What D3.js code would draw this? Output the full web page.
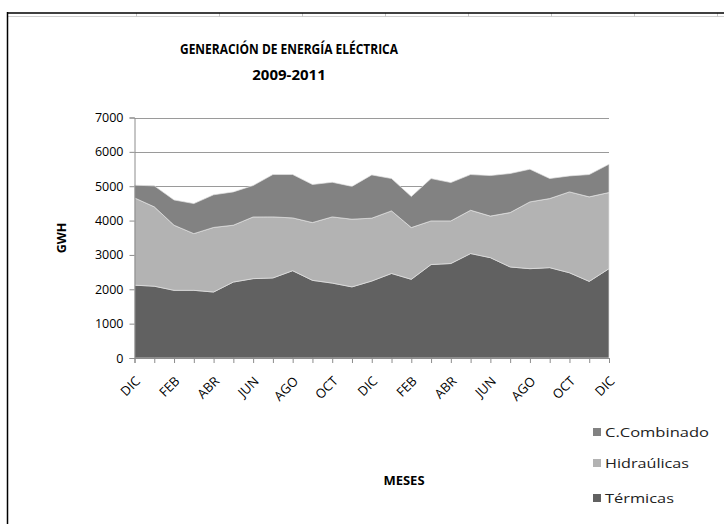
<!DOCTYPE html>
<html>
<head>
<meta charset="utf-8">
<script src="https://cdn.jsdelivr.net/npm/d3@7"></script>
<style>
  body { margin: 0; background: #fff; }
  svg text { font-family: "Open Sans", "Noto Sans", sans-serif; }
</style>
</head>
<body>
<svg id="chart" width="724" height="524"></svg>
<script>
// months DIC 2009 .. DIC 2011
const months = ["DIC","ENE","FEB","MAR","ABR","MAY","JUN","JUL","AGO","SEP","OCT","NOV",
                "DIC","ENE","FEB","MAR","ABR","MAY","JUN","JUL","AGO","SEP","OCT","NOV","DIC"]
const termicas    = [2120,2090,1970,1970,1920,2210,2310,2330,2540,2260,2180,2070,2240,2460,2290,2720,2750,3040,2920,2650,2600,2630,2480,2230,2600]
const hidraulicas = [2540,2310,1895,1650,1880,1655,1795,1777,1538,1682,1927,1970,1830,1822,1506,1270,1240,1260,1210,1583,1944,2010,2355,2460,2216]
const combinado   = [370,610,735,875,950,970,915,1233,1262,1108,1008,955,1260,941,904,1233,1117,1040,1180,1137,951,583,465,650,824]
const yTicks = [0,1000,2000,3000,4000,5000,6000,7000]

const svg = d3.select("#chart")

// spreadsheet frame
svg.append("line").attr("x1",7).attr("x2",724).attr("y1",16.5).attr("y2",16.5)
    .attr("stroke","#d0d0d0")
d3.range(136,724,83).forEach(function(x){
    svg.append("line").attr("x1",x+0.5).attr("x2",x+0.5).attr("y1",13).attr("y2",17)
        .attr("stroke","#c8c8c8")
})
svg.append("line").attr("x1",7).attr("x2",724).attr("y1",13).attr("y2",13)
    .attr("stroke","#000").attr("stroke-width",1.5)
svg.append("line").attr("x1",7.5).attr("x2",7.5).attr("y1",12).attr("y2",524)
    .attr("stroke","#000").attr("stroke-width",1.5)

const rows = months.map(function(m,i){
    return {i:i, termicas:termicas[i], hidraulicas:hidraulicas[i], combinado:combinado[i]}
})

const x = d3.scalePoint().domain(d3.range(months.length)).range([134.5,609])
const y = d3.scaleLinear().domain([0,7000]).range([358,117.5])

// grid
svg.append("g").selectAll("line").data(yTicks.slice(1)).enter().append("line")
    .attr("x1",134.5).attr("x2",609)
    .attr("y1",d=>Math.round(y(d))+0.5).attr("y2",d=>Math.round(y(d))+0.5)
    .attr("stroke","#9a9a9a")

const stack = d3.stack().keys(["termicas","hidraulicas","combinado"])
const series = stack(rows)
const colors = {termicas:"#616161", hidraulicas:"#b3b3b3", combinado:"#828282"}

const area = d3.area()
    .x(d=>x(d.data.i))
    .y0(d=>y(d[0]))
    .y1(d=>y(d[1]))

svg.append("g").selectAll("path").data(series).enter().append("path")
    .attr("d",area)
    .attr("fill",d=>colors[d.key])
    .attr("stroke","#e2e2e2")
    .attr("stroke-width",0.7)

// axes
const yAxis = svg.append("g").attr("transform","translate(134.5,0)")
    .call(d3.axisLeft(y).tickValues(yTicks).tickSize(5).tickPadding(6).tickFormat(d3.format("d")))
yAxis.select(".domain").attr("stroke","#8c8c8c")
yAxis.selectAll(".tick line").attr("stroke","#8c8c8c")
yAxis.selectAll("text").attr("font-size",12.5).attr("fill","#000")

const xAxis = svg.append("g").attr("transform","translate(0,358)")
    .call(d3.axisBottom(x).tickSize(5).tickFormat(i=> i%2==0 ? months[i] : ""))
xAxis.select(".domain").attr("stroke","#8c8c8c")
xAxis.selectAll(".tick line").attr("stroke","#8c8c8c")
xAxis.selectAll("text")
    .attr("font-size",13).attr("fill","#000")
    .attr("text-anchor","end")
    .attr("dy",0).attr("y",0)
    .attr("transform","translate(6,24) rotate(-45)")

// titles
svg.append("text").attr("x",289).attr("y",54).attr("text-anchor","middle")
    .attr("font-weight","bold").attr("font-size",15)
    .attr("textLength",218).attr("lengthAdjust","spacingAndGlyphs")
    .text("GENERACIÓN DE ENERGÍA ELÉCTRICA")
svg.append("text").attr("x",289).attr("y",80).attr("text-anchor","middle")
    .attr("font-weight","bold").attr("font-size",15).text("2009-2011")
svg.append("text").attr("transform","translate(66,238) rotate(-90)").attr("text-anchor","middle")
    .attr("font-weight","bold").attr("font-size",12.5).text("GWH")
svg.append("text").attr("x",404).attr("y",485).attr("text-anchor","middle")
    .attr("font-weight","bold").attr("font-size",13).text("MESES")

// legend
const legend = [
    {key:"combinado", label:"C.Combinado", y:432, w:104},
    {key:"hidraulicas", label:"Hidraúlicas", y:463, w:84},
    {key:"termicas", label:"Térmicas", y:498, w:69}
]
const lg = svg.append("g").selectAll("g").data(legend).enter().append("g")
lg.append("rect").attr("x",593).attr("y",d=>d.y-4).attr("width",8).attr("height",8)
    .attr("fill",d=>colors[d.key])
lg.append("text").attr("x",605).attr("y",d=>d.y+5).attr("font-size",13)
    .attr("textLength",d=>d.w).attr("lengthAdjust","spacingAndGlyphs")
    .attr("fill","#222").text(d=>d.label)
</script>
</body>
</html>
